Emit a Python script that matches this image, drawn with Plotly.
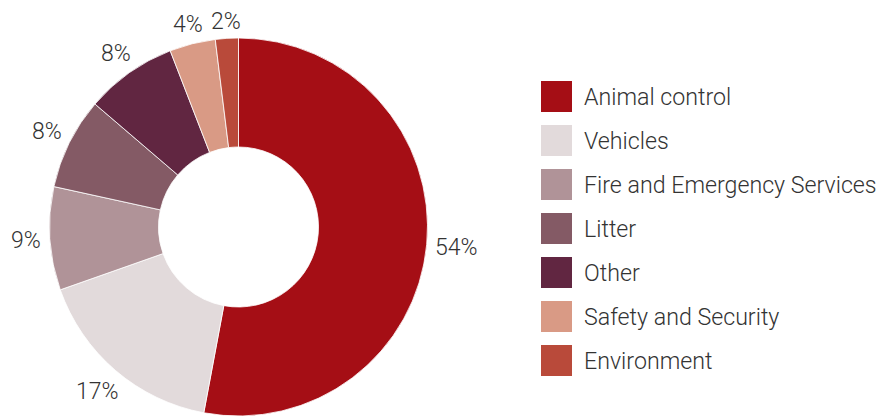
import math
import plotly.graph_objects as go

W, H = 886, 416

categories = [
    "Animal control",
    "Vehicles",
    "Fire and Emergency Services",
    "Litter",
    "Other",
    "Safety and Security",
    "Environment",
]
shares = [54, 17, 9, 8, 8, 4, 2]
colors = ["#A50E15", "#E2DADB", "#B09398", "#845A65", "#612641", "#D99A85", "#B94A3A"]
pct_labels = [f"{v}%" for v in shares]

FONT = "Roboto"
TEXT_COLOR = "#333333"
PCT_SIZE = 23
LEG_SIZE = 23.2

# Pie geometry in pixels (paper == pixels because margins are zero)
CX, CY, R = 238.5, 227.0, 189.0
HOLE_R = 80.0

fig = go.Figure(
    go.Pie(
        labels=categories,
        values=shares,
        textinfo="none",
        hole=HOLE_R / R,
        sort=False,
        direction="clockwise",
        rotation=0,
        automargin=False,
        marker=dict(colors=colors, line=dict(color="white", width=0.8)),
        showlegend=False,
        domain=dict(x=[(CX - R) / W, (CX + R) / W], y=[1 - (CY + R) / H, 1 - (CY - R) / H]),
    )
)


def text_box(label, size):
    # approximate rendered size of a percentage label
    widths = {"%": 0.74}
    w = sum(widths.get(ch, 0.56) for ch in label) * size
    h = 0.71 * size
    return w, h


annotations = []
# Percentage labels sit just outside each slice, along its mid-angle
total = sum(shares)
cum = 0.0
GAP = 8
for v, lab in zip(shares, pct_labels):
    mid = (cum + v / 2) / total * 2 * math.pi
    cum += v
    ux, uy = math.sin(mid), -math.cos(mid)  # screen direction, y downwards
    w, h = text_box(lab, PCT_SIZE)
    reach = R + GAP + abs(ux) * w / 2 + abs(uy) * h / 2
    px, py = CX + ux * reach, CY + uy * reach
    annotations.append(dict(
        xref="paper", yref="paper", x=px / W, y=1 - py / H,
        xanchor="center", yanchor="middle", showarrow=False, text=lab,
        font=dict(family=FONT, size=PCT_SIZE, color=TEXT_COLOR, weight=300),
    ))

# Legend drawn as large swatches with labels to the right
sw_x0, sw_size, row_top, row_gap = 541, 31, 81, 44
shapes = []
for i, (name, col) in enumerate(zip(categories, colors)):
    top = row_top + i * row_gap
    shapes.append(dict(
        type="rect", xref="paper", yref="paper",
        x0=sw_x0 / W, x1=(sw_x0 + sw_size) / W,
        y0=1 - top / H, y1=1 - (top + sw_size) / H,
        fillcolor=col, line=dict(width=0),
    ))
    annotations.append(dict(
        xref="paper", yref="paper", x=582 / W, y=1 - (top + sw_size / 2) / H,
        xanchor="left", yanchor="middle", showarrow=False, text=name,
        font=dict(family=FONT, size=LEG_SIZE, color=TEXT_COLOR, weight=300),
    ))

fig.update_layout(
    width=W, height=H,
    margin=dict(l=0, r=0, t=0, b=0, autoexpand=False),
    paper_bgcolor="white", plot_bgcolor="white",
    shapes=shapes, annotations=annotations,
)

fig.write_html("out.html")
